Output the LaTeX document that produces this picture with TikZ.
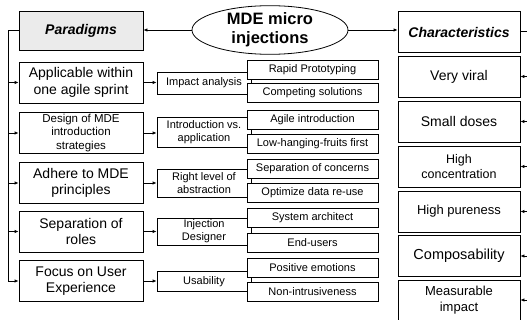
\documentclass[tikz,border=0pt]{standalone}
\usepackage{fontspec}
\setmainfont{Liberation Sans}
\usetikzlibrary{shapes.geometric,arrows.meta}
\newcommand{\fs}[2]{\fontsize{#1}{#2}\selectfont}
\tikzset{
  box/.style={draw, line width=0.8pt, fill=white, rectangle, align=center, inner sep=1pt},
  lbox/.style={box, minimum width=124pt, minimum height=41pt, font=\fs{14}{16.5}},
  rbox/.style={box, minimum width=122pt, minimum height=41pt, font=\fs{14}{16.5}},
  mbox/.style={box, minimum width=94pt, minimum height=21pt, font=\fs{11}{13}},
  sbox/.style={box, minimum width=131pt, minimum height=19pt, font=\fs{11}{13}},
  arr/.style={line width=0.8pt, -{Latex[length=4pt,width=3.5pt]}},
  trunk/.style={line width=1pt},
}
\begin{document}
\begin{tikzpicture}[x=1pt,y=-1pt]
\useasboundingbox (0,0) rectangle (527,320);
% center ellipse
\node[draw, line width=0.8pt, ellipse, minimum width=156pt, minimum height=45pt, inner sep=0pt, align=center, font=\fs{16.5}{19}\bfseries] (ell) at (270,30) {MDE micro\\injections};
% headers
\node[lbox, fill=black!8, minimum height=39pt, font=\fs{14}{16.5}\bfseries\itshape] (par) at (81,30.5) {Paradigms};
\node[rbox, font=\fs{14}{16.5}\bfseries\itshape] (cha) at (459,32) {Characteristics};
\draw[arr] (ell.west) -- (ell.west -| par.east);
\draw[arr] (ell.east) -- (ell.east -| cha.west);
% left boxes
\node[lbox] (l1) at (81,82.5) {Applicable within\\one agile sprint};
\node[lbox, font=\fs{11.5}{13.5}] (l2) at (81,133) {Design of MDE\\introduction\\strategies};
\node[lbox] (l3) at (81,183) {Adhere to MDE\\principles};
\node[lbox] (l4) at (81,231.5) {Separation of\\roles};
\node[lbox] (l5) at (81,281) {Focus on User\\Experience};
% middle boxes
\node[mbox, minimum height=22pt] (m1) at (204,83) {Impact analysis};
\node[mbox, minimum height=30pt] (m2) at (204,132.5) {Introduction vs.\\application};
\node[mbox, minimum height=28pt] (m3) at (204,183) {Right level of\\abstraction};
\node[mbox, minimum height=27pt] (m4) at (204,231.5) {Injection\\Designer};
\node[mbox, minimum height=20pt] (m5) at (204,281.5) {Usability};
% small boxes
\node[sbox] (s1) at (312.5,70) {Rapid Prototyping};
\node[sbox] (s2) at (312.5,93) {Competing solutions};
\node[sbox] (s3) at (312.5,119.5) {Agile introduction};
\node[sbox] (s4) at (312.5,144) {Low-hanging-fruits first};
\node[sbox] (s5) at (312.5,169) {Separation of concerns};
\node[sbox] (s6) at (312.5,193) {Optimize data re-use};
\node[sbox] (s7) at (312.5,218) {System architect};
\node[sbox] (s8) at (312.5,243) {End-users};
\node[sbox] (s9) at (312.5,267.5) {Positive emotions};
\node[sbox] (s10) at (312.5,292) {Non-intrusiveness};
% right boxes
\node[rbox] (r1) at (459,76.5) {Very viral};
\node[rbox] (r2) at (459,121.5) {Small doses};
\node[rbox, font=\fs{12.5}{15.5}] (r3) at (459,166.5) {High\\concentration};
\node[rbox, font=\fs{13}{15.5}] (r4) at (459,211.5) {High pureness};
\node[rbox, font=\fs{14.5}{16.5}] (r5) at (459,256) {Composability};
\node[rbox, minimum height=40pt, font=\fs{13}{16}] (r6) at (459,300) {Measurable\\impact};
% left trunk
\coordinate (lt) at (8,30.5);
\draw[trunk] (par.west) -- (lt) -- (lt |- l5.west);
\foreach \i in {1,...,5} {\draw[arr] (lt |- l\i.west) -- (l\i.west);}
% left to middle
\foreach \i in {1,...,5} {\draw[arr] (l\i.east) -- (l\i.east -| m\i.west);}
% right trunk
\coordinate (rt) at (529,32);
\draw[trunk] (cha.east) -- (rt) -- (rt |- r6.east);
\foreach \i in {1,...,6} {\draw[arr] (rt |- r\i.east) -- (r\i.east);}
\end{tikzpicture}
\end{document}
